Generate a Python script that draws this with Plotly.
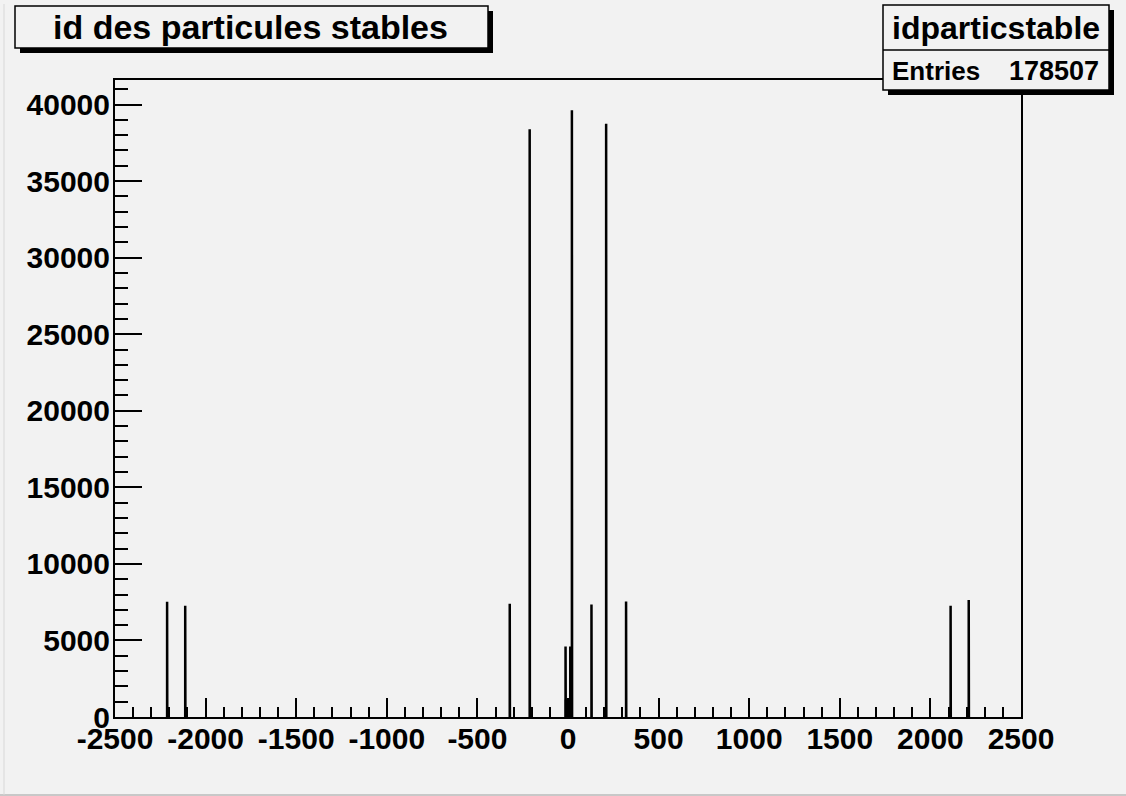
import plotly.graph_objects as go

# ---- data (PDG particle id -> number of entries) ----
particle_ids = [-2212, -2112, -321, -211, -13, -11, 11, 13, 22, 130, 211, 321, 2112, 2212]
counts = [7530, 7270, 7400, 38380, 4600, 1150, 1150, 4600, 39620, 7350, 38750, 7540, 7270, 7640]
bin_width = 1.0
x_range = [-2500, 2500]
y_max = max(counts) * 1.05
x_tick_vals = list(range(-2500, 2501, 500))
x_tick_text = [str(v) for v in x_tick_vals]
y_tick_vals = list(range(0, 40001, 5000))
y_tick_text = [str(v) for v in y_tick_vals]
hist_title = "id des particules stables"
stats_name = "idparticstable"
stats_entries = "178507"

BG = "#f2f2f2"
FONT = "Liberation Sans"

# outline of each non-empty bin (ROOT style histogram outline)
xs, ys = [], []
for c, v in zip(particle_ids, counts):
    lo, hi = c - bin_width / 2, c + bin_width / 2
    xs += [lo, lo, hi, hi, None]
    ys += [0, v, v, 0, None]

fig = go.Figure()
fig.add_trace(go.Scatter(x=xs, y=ys, mode="lines",
                         line=dict(color="black", width=2.5),
                         hoverinfo="skip", showlegend=False))

# plot-area geometry in pixels (for boxes placed around it)
L, R, T, B = 115, 1021, 80, 717
W, H = R - L, B - T


def px(x):
    return (x - L) / W


def py(y):
    return (B - y) / H


shapes = []
# canvas border lines
shapes.append(dict(type="line", xref="paper", yref="paper", x0=px(0), x1=px(1126),
                   y0=py(795), y1=py(795), line=dict(color="#c8c8c8", width=2)))
shapes.append(dict(type="line", xref="paper", yref="paper", x0=px(4), x1=px(4),
                   y0=py(4), y1=py(795), line=dict(color="#d8d8d8", width=1)))


def box(x0, y0, x1, y1, shadow=5):
    shapes.append(dict(type="rect", xref="paper", yref="paper",
                       x0=px(x0 + shadow), x1=px(x1 + shadow),
                       y0=py(y0 + shadow), y1=py(y1 + shadow),
                       fillcolor="black", line=dict(width=0), layer="above"))
    shapes.append(dict(type="rect", xref="paper", yref="paper",
                       x0=px(x0), x1=px(x1), y0=py(y0), y1=py(y1),
                       fillcolor=BG, line=dict(color="black", width=1.5), layer="above"))


# title box
box(15, 6, 488, 48)
# stats box
box(883, 5, 1109, 90)
shapes.append(dict(type="line", xref="paper", yref="paper", x0=px(883), x1=px(1109),
                   y0=py(50), y1=py(50), line=dict(color="black", width=1.5), layer="above"))

annotations = [
    dict(text=hist_title, xref="paper", yref="paper", x=px(250), y=py(27),
         xanchor="center", yanchor="middle", showarrow=False,
         font=dict(family=FONT, size=34, color="black", weight="bold")),
    dict(text=stats_name, xref="paper", yref="paper", x=px(996), y=py(28),
         xanchor="center", yanchor="middle", showarrow=False,
         font=dict(family=FONT, size=32, color="black", weight="bold")),
    dict(text="Entries", xref="paper", yref="paper", x=px(890), y=py(71),
         xanchor="left", yanchor="middle", showarrow=False,
         font=dict(family=FONT, size=26, color="black", weight="bold")),
    dict(text=stats_entries, xref="paper", yref="paper", x=px(1101), y=py(71),
         xanchor="right", yanchor="middle", showarrow=False,
         font=dict(family=FONT, size=27, color="black", weight="bold")),
]

tickfont = dict(family=FONT, size=30, color="black", weight="bold")

fig.update_layout(
    width=1126, height=796,
    margin=dict(l=L, r=1126 - R, t=T, b=796 - B, pad=0),
    paper_bgcolor=BG, plot_bgcolor=BG,
    shapes=shapes, annotations=annotations,
    xaxis=dict(range=x_range, tickmode="array", tickvals=x_tick_vals, ticktext=x_tick_text,
               ticks="inside", ticklen=19, tickwidth=1.5, tickcolor="black",
               minor=dict(dtick=100, tick0=0, ticks="inside", ticklen=10, tickwidth=1.5,
                          tickcolor="black", showgrid=False),
               showline=True, linecolor="black", linewidth=2, mirror=True,
               showgrid=False, zeroline=False, tickfont=tickfont, fixedrange=True,
               ticklabelstandoff=-6),
    yaxis=dict(range=[0, y_max], tickmode="array", tickvals=y_tick_vals, ticktext=y_tick_text,
               ticks="inside", ticklen=27, tickwidth=1.5, tickcolor="black",
               minor=dict(dtick=1000, tick0=0, ticks="inside", ticklen=13, tickwidth=1.5,
                          tickcolor="black", showgrid=False),
               showline=True, linecolor="black", linewidth=2, mirror=True,
               showgrid=False, zeroline=False, tickfont=tickfont, fixedrange=True,
               ticklabelstandoff=-3),
)

fig.write_html("out.html")
